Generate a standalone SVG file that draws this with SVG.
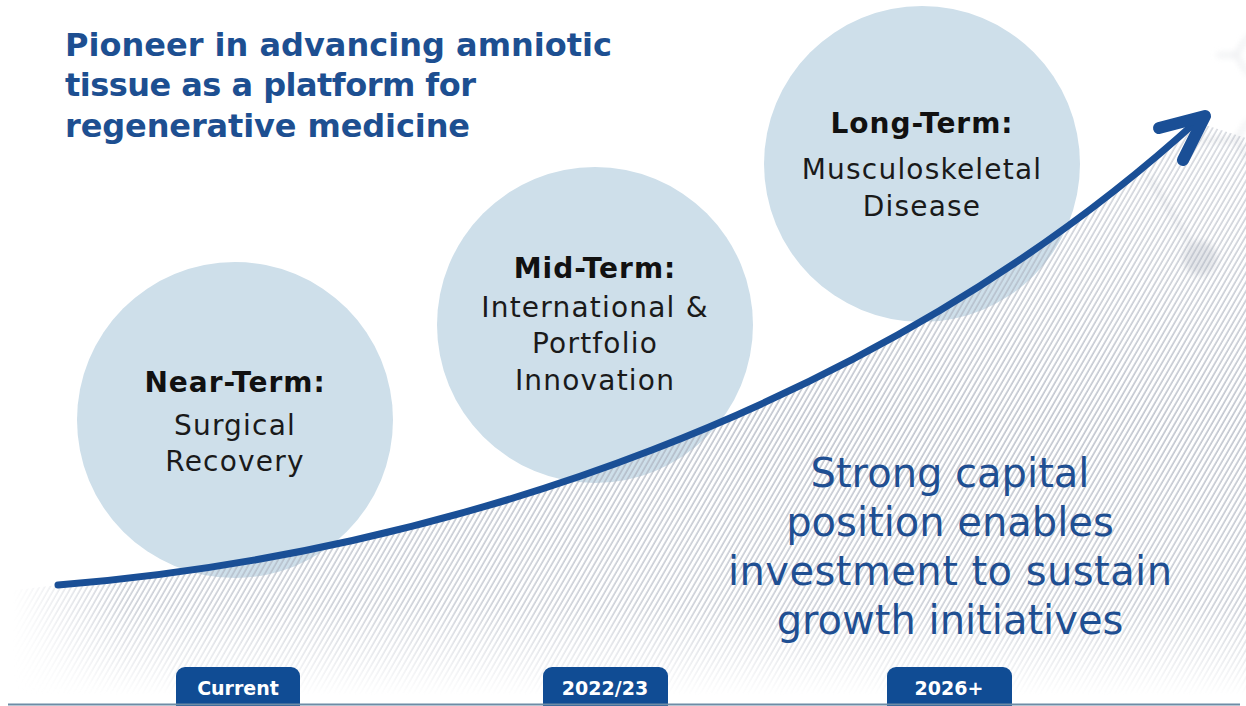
<svg xmlns="http://www.w3.org/2000/svg" width="1246" height="706" viewBox="0 0 1246 706">
  <defs>
    <style>
      .title { font-family: "DejaVu Sans", "Liberation Sans", sans-serif; font-weight: bold; font-size: 32px; fill: #1d4f91; }
      .head { font-family: "DejaVu Sans", "Liberation Sans", sans-serif; font-weight: bold; font-size: 28px; letter-spacing: 1px; fill: #111111; text-anchor: middle; }
      .body { font-family: "DejaVu Sans", "Liberation Sans", sans-serif; font-size: 28px; letter-spacing: 1.2px; fill: #1a1a1a; text-anchor: middle; }
      .note { font-family: "DejaVu Sans", "Liberation Sans", sans-serif; font-size: 40px; fill: #1f4f92; text-anchor: middle; }
      .tabtext { font-family: "DejaVu Sans", "Liberation Sans", sans-serif; font-weight: bold; font-size: 19px; fill: #ffffff; text-anchor: middle; }
      .bubble { fill: #cedfea; }
      .tab { fill: #104c94; }
      .mol { stroke: #e3e5e9; stroke-width: 3; fill: none; stroke-linecap: round; }
    </style>
    <pattern id="hatch" width="4.6" height="10" patternUnits="userSpaceOnUse" patternTransform="rotate(30)">
      <line x1="1" y1="0" x2="1" y2="10" stroke="#a9b0bc" stroke-width="1.2"/>
    </pattern>
    <linearGradient id="fadeV" x1="0" y1="0" x2="0" y2="706" gradientUnits="userSpaceOnUse">
      <stop offset="0.12" stop-color="#fff" stop-opacity="0.6"/>
      <stop offset="0.6" stop-color="#fff" stop-opacity="1"/>
      <stop offset="0.86" stop-color="#fff" stop-opacity="0.8"/>
      <stop offset="0.985" stop-color="#fff" stop-opacity="0"/>
    </linearGradient>
    <linearGradient id="fadeH" x1="0" y1="0" x2="1246" y2="0" gradientUnits="userSpaceOnUse">
      <stop offset="0.01" stop-color="#fff" stop-opacity="0"/>
      <stop offset="0.1" stop-color="#fff" stop-opacity="1"/>
    </linearGradient>
    <mask id="maskV" maskUnits="userSpaceOnUse" x="0" y="0" width="1246" height="706">
      <rect width="1246" height="706" fill="url(#fadeV)"/>
    </mask>
    <mask id="maskH" maskUnits="userSpaceOnUse" x="0" y="0" width="1246" height="706">
      <rect width="1246" height="706" fill="url(#fadeH)"/>
    </mask>
    <filter id="soft" x="-50%" y="-50%" width="200%" height="200%">
      <feGaussianBlur stdDeviation="3"/>
    </filter>
  </defs>

  <rect width="1246" height="706" fill="#ffffff"/>

  <!-- faint molecule ornament, top right -->
  <g id="molecule" filter="url(#soft)" opacity="0.9">
    <path class="mol" d="M1218,55 H1236 L1248,36 M1236,55 L1248,74"/>
    <path class="mol" d="M1192,140 H1236 L1248,121 M1236,140 L1248,159"/>
    <path class="mol" d="M1150,178 L1198,256"/>
    <circle cx="1200" cy="258" r="17" fill="#e2e4e8"/>
  </g>

  <!-- stage bubbles -->
  <g id="near-term">
    <circle class="bubble" cx="235" cy="420" r="158"/>
    <text class="head" x="235" y="392">Near-Term:</text>
    <text class="body" x="235" y="435">Surgical</text>
    <text class="body" x="235" y="471">Recovery</text>
  </g>
  <g id="mid-term">
    <circle class="bubble" cx="595" cy="325" r="158"/>
    <text class="head" x="595" y="278">Mid-Term:</text>
    <text class="body" x="595" y="317">International &amp;</text>
    <text class="body" x="595" y="353">Portfolio</text>
    <text class="body" x="595" y="390">Innovation</text>
  </g>
  <g id="long-term">
    <circle class="bubble" cx="922" cy="164" r="158"/>
    <text class="head" x="922" y="133">Long-Term:</text>
    <text class="body" x="922" y="179">Musculoskeletal</text>
    <text class="body" x="922" y="216">Disease</text>
  </g>

  <!-- hatched area under the growth curve -->
  <g id="hatching" mask="url(#maskH)">
    <g mask="url(#maskV)">
      <path fill="url(#hatch)" d="M0,592 L58,585 C440,555 880,410 1196,122 L1246,138 L1246,706 L0,706 Z"/>
    </g>
  </g>

  <!-- title -->
  <g id="title">
    <text class="title" x="65" y="56" textLength="547">Pioneer in advancing amniotic</text>
    <text class="title" x="65" y="96" textLength="411">tissue as a platform for</text>
    <text class="title" x="65" y="137" textLength="405">regenerative medicine</text>
  </g>

  <!-- capital statement -->
  <g id="capital-note">
    <text class="note" x="950" y="487">Strong capital</text>
    <text class="note" x="950" y="536">position enables</text>
    <text class="note" x="950" y="585" textLength="444">investment to sustain</text>
    <text class="note" x="950" y="634">growth initiatives</text>
  </g>

  <!-- growth arrow -->
  <g id="connectors" fill="none" stroke="#1a4f96" stroke-linecap="round" stroke-linejoin="round">
    <path d="M58,585 C440,555 880,410 1198,120" stroke-width="7"/>
    <path d="M1159,128 L1205,116 L1183,160" stroke-width="12"/>
  </g>

  <!-- timeline tabs -->
  <g id="tab-current">
    <rect class="tab" x="176" y="667" width="124" height="50" rx="9"/>
    <text class="tabtext" x="238" y="695">Current</text>
  </g>
  <g id="tab-2022">
    <rect class="tab" x="543" y="667" width="125" height="50" rx="9"/>
    <text class="tabtext" x="605" y="695">2022/23</text>
  </g>
  <g id="tab-2026">
    <rect class="tab" x="887" y="667" width="125" height="50" rx="9"/>
    <text class="tabtext" x="949" y="695">2026+</text>
  </g>

  <line x1="8" y1="704.5" x2="1240" y2="704.5" stroke="#6d8ca6" stroke-width="2"/>
</svg>
